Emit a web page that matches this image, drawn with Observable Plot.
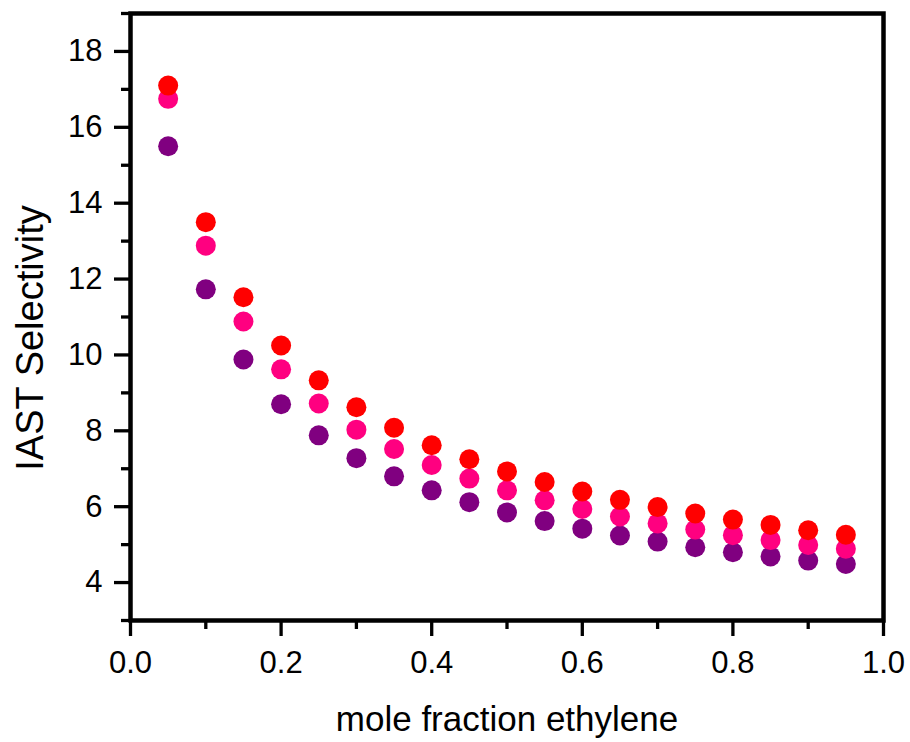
<!DOCTYPE html>
<html>
<head>
<meta charset="utf-8">
<script src="https://cdn.jsdelivr.net/npm/d3@7"></script>
<script src="https://cdn.jsdelivr.net/npm/@observablehq/plot@0.6"></script>
<style>
  html, body { margin: 0; padding: 0; background: #fff; }
  #chart { width: 910px; height: 742px; }
</style>
</head>
<body>
<div id="chart"></div>
<script>
const moleFraction = [0.05, 0.10, 0.15, 0.20, 0.25, 0.30, 0.35, 0.40, 0.45, 0.50, 0.55, 0.60, 0.65, 0.70, 0.75, 0.80, 0.85, 0.90, 0.95];
const seriesRed    = [17.10, 13.50, 11.52, 10.25, 9.33, 8.62, 8.08, 7.62, 7.25, 6.93, 6.65, 6.40, 6.18, 5.99, 5.82, 5.66, 5.52, 5.38, 5.26];
const seriesPink   = [16.75, 12.88, 10.88, 9.62, 8.72, 8.03, 7.52, 7.10, 6.74, 6.43, 6.17, 5.94, 5.74, 5.56, 5.40, 5.25, 5.12, 4.99, 4.89];
const seriesPurple = [15.50, 11.73, 9.88, 8.70, 7.88, 7.28, 6.80, 6.43, 6.12, 5.85, 5.62, 5.42, 5.24, 5.08, 4.93, 4.80, 4.69, 4.58, 4.49];
const seriesColors = {purple: "#800080", pink: "#FF0080", red: "#FF0000"};

const xMajorTicks = [0, 0.2, 0.4, 0.6, 0.8, 1.0];
const xMinorTicks = [0.1, 0.3, 0.5, 0.7, 0.9];
const yMajorTicks = [4, 6, 8, 10, 12, 14, 16, 18];
const yMinorTicks = [3, 5, 7, 9, 11, 13, 15, 17, 19];
const xTitle = "mole fraction ethylene";
const yTitle = "IAST Selectivity";

const rows = (vals) => moleFraction.map((x, i) => ({x, y: vals[i]}));

const chart = Plot.plot({
  width: 910, height: 742,
  marginLeft: 130, marginRight: 27, marginTop: 13, marginBottom: 122,
  style: {fontFamily: "'Liberation Sans', Arial, sans-serif", color: "black", background: "white"},
  x: {domain: [0, 1]},
  y: {domain: [3, 19]},
  marks: [
    Plot.axisX(xMinorTicks, {tickSize: 9, strokeWidth: 3.3, tickFormat: () => "", label: null}),
    Plot.axisX(xMajorTicks, {tickSize: 16, tickPadding: 14, strokeWidth: 3.3, fontSize: 31, tickFormat: d => d.toFixed(1), label: null}),
    Plot.axisY(yMinorTicks, {tickSize: 9, strokeWidth: 3.3, tickFormat: () => "", label: null}),
    Plot.axisY(yMajorTicks, {tickSize: 16, tickPadding: 12, strokeWidth: 3.3, fontSize: 31, label: null}),
    Plot.dot(rows(seriesPurple), {x: "x", y: "y", r: 10, fill: seriesColors.purple}),
    Plot.dot(rows(seriesPink), {x: "x", y: "y", r: 10, fill: seriesColors.pink}),
    Plot.dot(rows(seriesRed), {x: "x", y: "y", r: 10, fill: seriesColors.red}),
    Plot.frame({stroke: "black", strokeWidth: 4.5}),
    Plot.text([xTitle], {frameAnchor: "bottom", text: d => d, dy: 99, fontSize: 35, lineAnchor: "middle", textAnchor: "middle", fill: "black"}),
    Plot.text([yTitle], {frameAnchor: "left", text: d => d, dx: -100, dy: 21, rotate: -90, fontSize: 38, lineAnchor: "middle", textAnchor: "middle", fill: "black"})
  ]
});
document.getElementById("chart").appendChild(chart);
</script>
</body>
</html>
